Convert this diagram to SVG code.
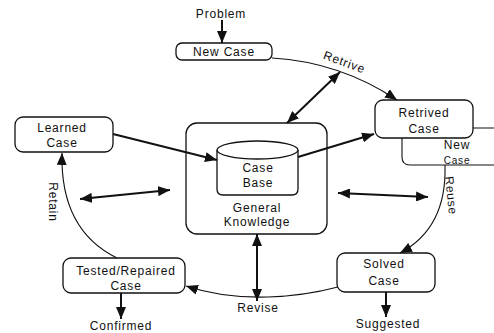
<svg xmlns="http://www.w3.org/2000/svg" width="494" height="333" viewBox="0 0 494 333">
<style>
text{font-family:"Liberation Sans",Arial,sans-serif;font-size:12px;letter-spacing:0.8px;fill:#111;text-anchor:middle}
.box{fill:#fff;stroke:#111;stroke-width:1.3}
.arc{fill:none;stroke:#111;stroke-width:1.1}
.arr{fill:none;stroke:#111;stroke-width:2}
</style>
<defs>
<marker id="ah" viewBox="0 0 12 10" refX="12" refY="5" markerWidth="12" markerHeight="10" markerUnits="userSpaceOnUse" orient="auto-start-reverse">
<path d="M0,0 L12,5 L0,10 Z" fill="#111"/>
</marker>
</defs>
<rect width="494" height="333" fill="#fff"/>
<g id="problem"><text x="221" y="18">Problem</text></g>
<g id="new-case">
<rect class="box" x="176" y="43" width="96" height="17" rx="6"/>
<text x="224" y="56">New Case</text>
</g>
<g id="retive-label"><text transform="translate(343,66) rotate(20)">Retrive</text></g>
<g id="new-case-sub">
<path class="arc" d="M473,128 H494 M402,138 V157 Q402,165 410,165 H494" stroke-width="1.3"/>
<text x="457" y="149">New</text>
<text x="457" y="164" style="font-size:10px">Case</text>
</g>
<g id="retrived-case">
<rect class="box" x="375" y="100" width="98" height="38" rx="8"/>
<text x="424" y="117">Retrived</text>
<text x="424" y="133">Case</text>
</g>
<g id="learned-case">
<rect class="box" x="15" y="117" width="98" height="35" rx="8"/>
<text x="62" y="132">Learned</text>
<text x="62" y="147">Case</text>
</g>
<g id="general-knowledge">
<rect class="box" x="186" y="123" width="141" height="111" rx="11"/>
<text x="257" y="212">General</text>
<text x="257" y="226">Knowledge</text>
</g>
<g id="case-base">
<path class="box" d="M217,150 V189 Q217,195 223,195 H292 Q298,195 298,189 V150"/>
<ellipse class="box" cx="257.5" cy="150" rx="40.5" ry="9"/>
<text x="258" y="172">Case</text>
<text x="258" y="187">Base</text>
</g>
<g id="reuse-label"><text transform="translate(447,196) rotate(84)">Reuse</text></g>
<g id="retain-label"><text transform="translate(49,202) rotate(90)">Retain</text></g>
<g id="solved-case">
<rect class="box" x="337" y="253" width="98" height="39" rx="8"/>
<text x="384" y="268">Solved</text>
<text x="384" y="285">Case</text>
</g>
<g id="tested-case">
<rect class="box" x="63" y="258" width="122" height="35" rx="8"/>
<text x="126" y="275">Tested/Repaired</text>
<text x="126" y="290">Case</text>
</g>
<g id="revise-label"><text x="258" y="312">Revise</text></g>
<g id="suggested"><text x="388" y="328">Suggested</text></g>
<g id="confirmed"><text x="121" y="330">Confirmed</text></g>
<g id="connectors">
<path class="arr" d="M222,20 V43" marker-end="url(#ah)"/>
<path class="arc" d="M272,58 Q340,62 397,100" marker-end="url(#ah)"/>
<path class="arr" d="M340,72 L287,123" marker-start="url(#ah)" marker-end="url(#ah)"/>
<path class="arr" d="M113,134 L217,160" marker-end="url(#ah)"/>
<path class="arr" d="M298,157 L374,134" marker-end="url(#ah)"/>
<path class="arr" d="M80,199 L170,190" marker-start="url(#ah)" marker-end="url(#ah)"/>
<path class="arr" d="M338,193 L428,197" marker-start="url(#ah)" marker-end="url(#ah)"/>
<path class="arr" d="M257,234 V301" marker-start="url(#ah)" marker-end="url(#ah)"/>
<path class="arc" d="M445,165 Q447,228 400,253" marker-end="url(#ah)"/>
<path class="arc" d="M338,287 C300,297 240,304 186,286" marker-end="url(#ah)"/>
<path class="arc" d="M117,258 Q60,230 62,153" marker-end="url(#ah)"/>
<path class="arr" d="M386,292 V317" marker-end="url(#ah)"/>
<path class="arr" d="M121,293 V319" marker-end="url(#ah)"/>
</g>
</svg>
